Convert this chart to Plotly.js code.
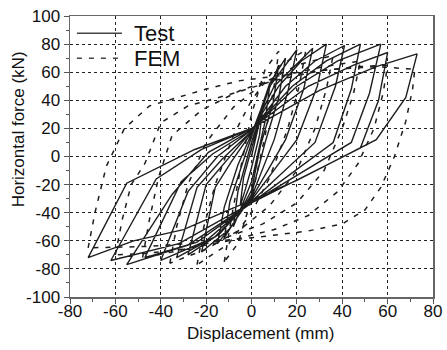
<!DOCTYPE html>
<html>
<head>
<meta charset="utf-8">
<script src="https://cdn.plot.ly/plotly-3.0.1.min.js"></script>
<style>html,body{margin:0;padding:0;background:#fff;}#chart{width:447px;height:350px;}</style>
</head>
<body>
<div id="chart"></div>
<script>
// Test hysteresis loops (displacement mm, force kN)
const testLoopX = [
  [0,3,5,3.5,0,-3,-5,-3.5,0],
  [0,5,8,6,0,-5,-8,-6,0],
  [0,7,12,9.5,4,0,-7,-12,-9.5,-4,0],
  [0,8,15,12,6,0,-8,-15,-12,-6,0],
  [0,8,20,16,10,0,-10,-22,-16,-9,0],
  [0,10,27,23,15,0,-14,-28,-20,-11,0],
  [0,12,22,33,29,20,0,-16,-33,-24,-13,0],
  [0,15,28,41,37,28,0,-20,-40,-28,-15,0],
  [0,18,33,48,44,36,0,-24,-47,-31,-17,0],
  [0,20,38,57,52,44,0,-28,-55,-35,-19,0],
  [0,25,45,60,56,48,0,-32,-62,-42,-22,0],
  [0,30,55,73,68,55,20,0,-30,-52,-72,-55,-25,0]
];
const testLoopY = [
  [0,22,35,15,-8,-25,-35,-15,5],
  [5,35,50,25,-18,-38,-50,-25,10],
  [10,45,65,38,8,-24,-45,-58,-32,-5,14],
  [14,52,70,42,10,-27,-48,-62,-36,-6,16],
  [16,50,76,46,12,-29,-52,-68,-22,-4,17],
  [17,50,77,48,12,-30,-55,-70,-20,-3,18],
  [18,50,68,80,50,12,-31,-57,-72,-22,-2,18],
  [18,50,68,79,50,10,-32,-60,-74,-25,0,19],
  [19,50,68,80,48,10,-33,-61,-72,-18,2,19],
  [19,50,68,80,45,10,-33,-63,-77,-27,3,20],
  [20,50,65,74,40,6,-33,-62,-74,-16,5,20],
  [20,47,64,73,42,12,-17,-31,-52,-60,-72,-19,5,20]
];
// FEM hysteresis loops
const femLoopX = [
  [-12,-9,-5,0,6,12,10,6,0,-6,-12],
  [-24,-21,-16,-8,0,10,24,21,16,8,0,-10,-24],
  [-36,-33,-28,-20,-8,5,20,36,33,28,20,8,-5,-20,-36],
  [-48,-45,-41,-35,-22,-5,15,32,48,45,40,32,20,5,-15,-32,-48],
  [-60,-57,-53,-47,-40,-28,-10,10,30,48,60,58,54,47,38,25,10,-10,-30,-47,-60],
  [-72,-69,-64,-56,-45,-32,-20,-5,15,35,55,72,71,68,63,57,50,40,25,5,-20,-45,-72]
];
const femLoopY = [
  [-75,-45,-10,30,62,75,50,15,-30,-62,-75],
  [-77,-50,-20,15,40,62,76,50,20,-15,-40,-62,-77],
  [-76,-50,-20,10,35,52,65,72,48,20,-10,-35,-52,-66,-76],
  [-72,-45,-15,15,33,47,58,64,68,45,20,-10,-33,-48,-60,-67,-72],
  [-70,-45,-20,-5,24,36,44,54,61,64,65,45,20,-5,-25,-42,-52,-60,-66,-69,-70],
  [-65,-40,-7,20,36,42,48,54,58,62,64,62,48,25,0,-22,-38,-48,-53,-57,-61,-64,-65]
];
const seriesNames = ['Test', 'FEM'];
const xTicks = [-80,-60,-40,-20,0,20,40,60,80];
const xTickText = ['-80','-60','-40','-20','0','20','40','60','80'];
const yTicks = [-100,-80,-60,-40,-20,0,20,40,60,80,100];
const yTickText = ['-100','-80','-60','-40','-20','0','20','40','60','80','100'];

const testX = [].concat(...testLoopX);
const testY = [].concat(...testLoopY);
const femX = [], femY = [];
femLoopX.forEach((lx, i) => { femX.push(...lx, null); femY.push(...femLoopY[i], null); });

const ink = '#1e1e1e';
const traces = [
  {x: testX, y: testY, type: 'scatter', mode: 'lines', name: seriesNames[0],
   line: {color: ink, width: 1.4}},
  {x: femX, y: femY, type: 'scatter', mode: 'lines', name: seriesNames[1], connectgaps: false,
   line: {color: ink, width: 1.5, dash: '5px,7px'}}
];
const fam = 'Liberation Sans, Arial, sans-serif';
const font = {family: fam, size: 17, color: '#111'};
const axisCommon = {
  showline: true, mirror: true, linecolor: '#666', linewidth: 1.5,
  ticks: 'outside', ticklen: 5, tickwidth: 1, tickcolor: '#555',
  showgrid: true, gridcolor: '#222', gridwidth: 1, griddash: '3px,3px',
  zeroline: false, tickfont: font,
  minor: {ticks: 'outside', ticklen: 3, tickcolor: '#555', showgrid: false}
};
const legY = [0.9385, 0.8496];
const layout = {
  width: 447, height: 350,
  margin: {l: 70, r: 14, t: 16, b: 53},
  paper_bgcolor: '#fff', plot_bgcolor: '#fff',
  font: font,
  showlegend: false,
  xaxis: Object.assign({}, axisCommon, {range: [-80, 80], tickvals: xTicks, ticktext: xTickText,
          ticklabelstandoff: -7,
          minor: Object.assign({}, axisCommon.minor, {dtick: 10, tick0: 0})}),
  yaxis: Object.assign({}, axisCommon, {range: [-100, 100], tickvals: yTicks, ticktext: yTickText,
          minor: Object.assign({}, axisCommon.minor, {dtick: 10, tick0: 0})}),
  shapes: [
    {type: 'line', xref: 'paper', yref: 'paper', x0: 0.019, x1: 0.143, y0: legY[0], y1: legY[0],
     line: {color: '#444', width: 1.4}},
    {type: 'line', xref: 'paper', yref: 'paper', x0: 0.019, x1: 0.143, y0: legY[1], y1: legY[1],
     line: {color: '#444', width: 1.5, dash: '5px,7px'}}
  ],
  annotations: [
    {xref: 'paper', yref: 'paper', x: 0.17, y: legY[0], xanchor: 'left', yanchor: 'middle',
     text: seriesNames[0], showarrow: false, font: {family: fam, size: 22, color: '#111'}},
    {xref: 'paper', yref: 'paper', x: 0.17, y: legY[1], xanchor: 'left', yanchor: 'middle',
     text: seriesNames[1], showarrow: false, font: {family: fam, size: 22, color: '#111'}},
    {xref: 'paper', yref: 'paper', x: 0.526, y: -0.13, xanchor: 'center', yanchor: 'middle',
     text: 'Displacement (mm)', showarrow: false, font: font},
    {xref: 'paper', yref: 'paper', x: -0.143, y: 0.597, xanchor: 'center', yanchor: 'middle',
     textangle: -90, text: 'Horizontal force (kN)', showarrow: false, font: font}
  ]
};
Plotly.newPlot('chart', traces, layout, {displayModeBar: false, staticPlot: true});
</script>
</body>
</html>
